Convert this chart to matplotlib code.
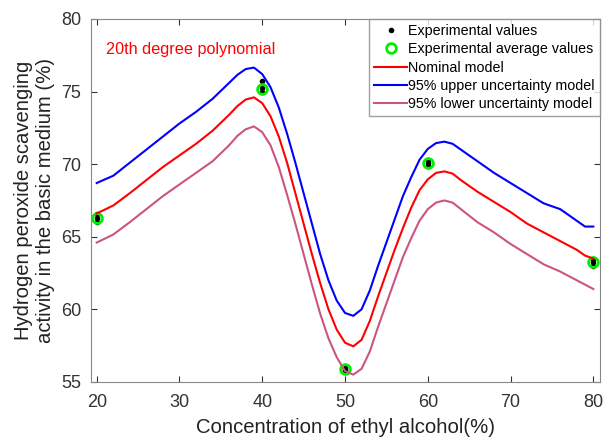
import matplotlib
matplotlib.use('Agg')
import matplotlib.pyplot as plt

plt.rcParams['font.family'] = ['Liberation Sans', 'DejaVu Sans']

# model curves
conc = [20, 22, 24, 26, 28, 30, 32, 34, 36, 37, 38, 39, 40, 41, 42, 43, 44, 45, 46, 47,
        48, 49, 50, 51, 52, 53, 54, 55, 56, 57, 58, 59, 60, 61, 62, 63, 64, 66, 68, 70,
        72, 74, 76, 78, 79, 80]
upper = [68.7, 69.2, 70.1, 71.0, 71.9, 72.8, 73.6, 74.5, 75.6, 76.15, 76.55, 76.65, 76.2,
         75.3, 73.9, 72.1, 70.1, 68.0, 65.9, 63.8, 62.0, 60.6, 59.75, 59.55, 60.0, 61.3,
         63.0, 64.6, 66.2, 67.8, 69.1, 70.3, 71.05, 71.45, 71.55, 71.4, 71.0, 70.2, 69.4,
         68.7, 68.0, 67.3, 66.9, 66.1, 65.7, 65.7]
nominal = [66.6, 67.15, 68.0, 68.9, 69.8, 70.6, 71.4, 72.3, 73.4, 74.0, 74.45, 74.6, 74.2,
           73.3, 71.9, 70.1, 68.0, 65.9, 63.8, 61.8, 60.0, 58.6, 57.7, 57.45, 57.9, 59.2,
           60.9, 62.5, 64.1, 65.6, 67.0, 68.2, 68.95, 69.4, 69.5, 69.35, 68.9, 68.1, 67.4,
           66.7, 65.9, 65.3, 64.7, 64.1, 63.7, 63.5]
lower = [64.6, 65.15, 66.0, 66.9, 67.8, 68.6, 69.4, 70.2, 71.3, 71.95, 72.4, 72.6, 72.2,
         71.3, 69.8, 67.9, 65.9, 63.8, 61.7, 59.7, 58.0, 56.7, 55.75, 55.5, 55.9, 57.1,
         58.8, 60.4, 62.0, 63.6, 64.9, 66.1, 66.9, 67.35, 67.5, 67.35, 66.9, 66.0, 65.3,
         64.5, 63.8, 63.1, 62.6, 62.0, 61.7, 61.4]

# experiments
exp_x = [20, 20, 20, 40, 40, 40, 50, 50, 50, 60, 60, 60, 80, 80, 80]
exp_y = [66.6, 66.3, 66.0, 75.75, 75.25, 74.95, 55.95, 55.9, 55.85,
         70.3, 70.1, 69.9, 63.5, 63.25, 63.0]
avg_x = [20, 40, 50, 60, 80]
avg_y = [66.3, 75.2, 55.9, 70.1, 63.25]

fig = plt.figure(figsize=(6.06, 4.41), dpi=100)
ax = fig.add_axes([0.150, 0.134, 0.840, 0.823])

ax.plot(exp_x, exp_y, 'k.', markersize=6, label='Experimental values')
ax.plot(avg_x, avg_y, 'o', color='#00ee00', markerfacecolor='none', markersize=7,
        markeredgewidth=2, label='Experimental average values')
ax.plot(conc, nominal, color='red', lw=1.5, label='Nominal model')
ax.plot(conc, upper, color='blue', lw=1.5, label='95% upper uncertainty model')
ax.plot(conc, lower, color='#cc5580', lw=1.5, label='95% lower uncertainty model')

ax.text(21.1, 77.9, '20th degree polynomial', color='red', fontsize=11.7, va='center')

ax.set_xlim(19.3, 80.8)
ax.set_ylim(55, 80)
ax.set_xticks([20, 30, 40, 50, 60, 70, 80])
ax.set_yticks([55, 60, 65, 70, 75, 80])
ax.tick_params(direction='in', top=True, right=True, labelsize=13, colors='#333333',
               length=4)
ax.tick_params(axis='x', pad=9)
ax.tick_params(axis='y', pad=7)
for s in ax.spines.values():
    s.set_color('#888888')

ax.set_xlabel('Concentration of ethyl alcohol(%)', fontsize=14.6, color='#222222', labelpad=5)
ax.set_ylabel('Hydrogen peroxide scavenging\nactivity in the basic medium (%)',
              fontsize=14.6, color='#222222', labelpad=4)

leg = ax.legend(loc='upper right', fontsize=10.3, frameon=True, fancybox=False,
                edgecolor='#888888', handlelength=2.3, borderpad=0.35, labelspacing=0.3,
                handletextpad=0.1, borderaxespad=0.0)
leg.get_frame().set_linewidth(1.0)

fig.savefig('out.png', dpi=100)
